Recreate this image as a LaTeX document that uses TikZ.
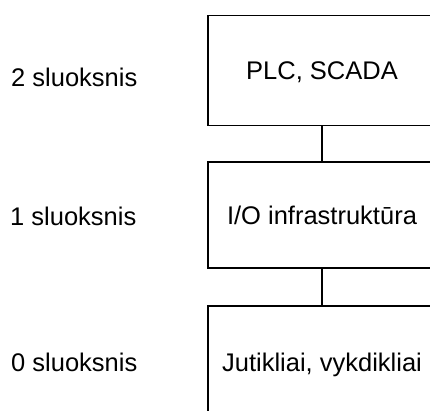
\documentclass[tikz,border=0pt]{standalone}
\usepackage{fontspec}
\setmainfont{Liberation Sans}
\begin{document}
\begin{tikzpicture}[x=1pt,y=1pt,
  layerbox/.style={draw=black, line width=1.3pt, rectangle, minimum width=228pt, inner sep=0pt,
    font=\fontsize{25.5}{30}\selectfont, text height=18.3pt, text depth=0pt},
  layerlabel/.style={anchor=base west, inner sep=0pt, font=\fontsize{25.5}{30}\selectfont},
  link/.style={line width=1.3pt}]
\useasboundingbox (0,0) rectangle (430,-410);
\clip (0,0) rectangle (430,-410);
\node[layerbox, minimum height=110pt] (top) at (322,-70.5) {PLC, SCADA};
\node[layerbox, minimum height=106pt] (mid) at (322,-215) {I/O infrastruktūra};
\node[layerbox, minimum height=112pt] (bot) at (322,-362) {Jutikliai, vykdikliai};
\draw[link] (top.south) -- (mid.north);
\draw[link] (mid.south) -- (bot.north);
\node[layerlabel] (l2) at (11,-86.7) {2 sluoksnis};
\node[layerlabel] (l1) at (10,-225) {1 sluoksnis};
\node[layerlabel] (l0) at (11,-371) {0 sluoksnis};
\end{tikzpicture}
\end{document}
